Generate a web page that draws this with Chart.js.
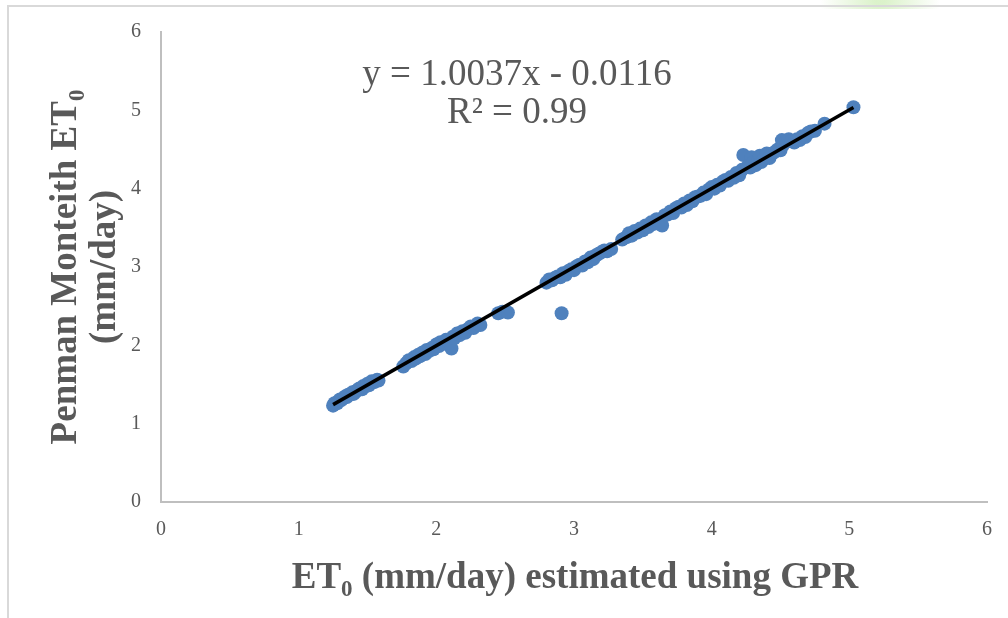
<!DOCTYPE html>
<html>
<head>
<meta charset="utf-8">
<title>ET0 GPR vs Penman Monteith</title>
<script src="https://cdn.jsdelivr.net/npm/chart.js@4/dist/chart.umd.min.js"></script>
<style>
    html, body { margin: 0; padding: 0; background: #ffffff; }
    canvas { display: block; }
</style>
</head>
<body>
<canvas id="etChart" width="1008" height="618"></canvas>
<script>
// ET0 estimated with GPR (x) against Penman Monteith ET0 (y), mm/day
const gprEt0 = [
    1.25, 1.26, 1.28, 1.29, 1.30, 1.31, 1.33, 1.34, 1.35, 1.36, 1.38, 1.39, 1.40, 1.42, 1.43, 1.44,
    1.46, 1.47, 1.48, 1.50, 1.51, 1.53, 1.55, 1.57, 1.58,
    1.76, 1.78, 1.80, 1.82, 1.84, 1.85, 1.87, 1.88, 1.90, 1.92, 1.93, 1.95, 1.97, 1.98, 2.00, 2.02,
    2.03, 2.05, 2.07, 2.09, 2.11, 2.12, 2.13, 2.15, 2.17, 2.19, 2.21, 2.23, 2.25, 2.27, 2.30, 2.32,
    2.45, 2.48, 2.52, 2.91,
    2.80, 2.82, 2.84, 2.86, 2.88, 2.90, 2.92, 2.94, 2.96, 2.98, 3.00, 3.02, 3.04, 3.06, 3.08, 3.10,
    3.12, 3.14, 3.16, 3.18, 3.20, 3.22, 3.24, 3.27,
    3.35, 3.38, 3.40, 3.42, 3.44, 3.46, 3.48, 3.50, 3.52, 3.54, 3.56, 3.58, 3.60, 3.62, 3.64, 3.66,
    3.68, 3.70, 3.72, 3.74, 3.76, 3.78, 3.80, 3.82, 3.84, 3.86, 3.88, 3.90, 3.92, 3.94, 3.96, 3.98,
    4.00, 4.02, 4.04, 4.06, 4.08, 4.10, 4.12, 4.14, 4.16, 4.18, 4.20, 4.22, 4.23, 4.26, 4.28, 4.29,
    4.30, 4.32, 4.34, 4.35, 4.36, 4.38, 4.40, 4.42, 4.44, 4.46, 4.48, 4.50, 4.51, 4.52, 4.54, 4.56,
    4.58, 4.60, 4.62, 4.64, 4.66, 4.68, 4.70, 4.72, 4.75, 4.82, 5.03
];
const penmanEt0 = [
    1.23, 1.26, 1.26, 1.29, 1.31, 1.30, 1.33, 1.35, 1.34, 1.37, 1.38, 1.40, 1.38, 1.42, 1.43, 1.45,
    1.44, 1.48, 1.47, 1.51, 1.49, 1.54, 1.53, 1.56, 1.55,
    1.73, 1.77, 1.81, 1.80, 1.85, 1.83, 1.88, 1.86, 1.91, 1.89, 1.94, 1.93, 1.97, 1.95, 2.01, 1.99,
    2.04, 2.02, 2.07, 2.05, 1.96, 2.11, 2.09, 2.15, 2.13, 2.18, 2.16, 2.21, 2.24, 2.22, 2.28, 2.26,
    2.41, 2.43, 2.42, 2.41,
    2.80, 2.84, 2.83, 2.86, 2.88, 2.87, 2.92, 2.90, 2.95, 2.97, 2.96, 3.01, 3.03, 3.02, 3.07, 3.06,
    3.12, 3.10, 3.15, 3.17, 3.19, 3.21, 3.20, 3.23,
    3.35, 3.38, 3.43, 3.40, 3.46, 3.44, 3.49, 3.47, 3.53, 3.51, 3.57, 3.55, 3.61, 3.59, 3.53, 3.66,
    3.67, 3.71, 3.69, 3.75, 3.77, 3.76, 3.81, 3.79, 3.85, 3.84, 3.89, 3.90, 3.91, 3.95, 3.93, 3.99,
    4.02, 4.00, 4.05, 4.04, 4.09, 4.11, 4.10, 4.15, 4.14, 4.20, 4.17, 4.24, 4.43, 4.28, 4.27, 4.40,
    4.33, 4.30, 4.36, 4.42, 4.34, 4.38, 4.45, 4.39, 4.45, 4.47, 4.50, 4.49, 4.62, 4.56, 4.60, 4.63,
    4.61, 4.59, 4.63, 4.62, 4.67, 4.66, 4.71, 4.73, 4.74, 4.83, 5.04
];
const axisTicks = [0, 1, 2, 3, 4, 5, 6];

// linear fit reported on the chart
const trendSlope = 1.0037;
const trendIntercept = -0.0116;
const rSquared = 0.99;

const textGrey = '#595959';
const serif = "'Liberation Serif', 'Times New Roman', serif";

const scatterPoints = gprEt0.map((x, i) => ({ x: x, y: penmanEt0[i] }));
const xMin = Math.min(...gprEt0);
const xMax = Math.max(...gprEt0);
const trendPoints = [xMin, xMax].map(x => ({ x: x, y: trendSlope * x + trendIntercept }));

// draws a line of text where some parts are subscripts, centred on (cx, baseline)
function drawRichText(ctx, parts, cx, baseline, size, weight) {
    const subSize = Math.round(size * 0.62);
    let total = 0;
    parts.forEach(p => {
        ctx.font = weight + ' ' + (p.sub ? subSize : size) + 'px ' + serif;
        p.w = ctx.measureText(p.t).width;
        total += p.w;
    });
    let x = cx - total / 2;
    ctx.textAlign = 'left';
    ctx.textBaseline = 'alphabetic';
    parts.forEach(p => {
        ctx.font = weight + ' ' + (p.sub ? subSize : size) + 'px ' + serif;
        ctx.fillText(p.t, x, baseline + (p.sub ? size * 0.22 : 0));
        x += p.w;
    });
}

const decorPlugin = {
    id: 'decor',
    beforeDraw(chart) {
        const ctx = chart.ctx;
        ctx.save();
        ctx.fillStyle = '#ffffff';
        ctx.fillRect(0, 0, chart.width, chart.height);
        // faint green patch on the top edge
        const g = ctx.createRadialGradient(880, 0, 5, 880, 0, 60);
        g.addColorStop(0, 'rgba(190, 232, 160, 0.55)');
        g.addColorStop(1, 'rgba(190, 232, 160, 0)');
        ctx.fillStyle = g;
        ctx.fillRect(820, 0, 120, 9);
        // page frame
        ctx.strokeStyle = '#d9d9d9';
        ctx.lineWidth = 2;
        ctx.beginPath();
        ctx.moveTo(1008, 6);
        ctx.lineTo(8, 6);
        ctx.lineTo(8, 618);
        ctx.stroke();
        ctx.restore();
    },
    afterDraw(chart) {
        const ctx = chart.ctx;
        ctx.save();
        ctx.fillStyle = textGrey;

        // trendline equation
        ctx.font = '37px ' + serif;
        ctx.textAlign = 'center';
        ctx.textBaseline = 'alphabetic';
        const sign = trendIntercept < 0 ? ' - ' : ' + ';
        ctx.fillText('y = ' + trendSlope + 'x' + sign + Math.abs(trendIntercept), 517, 85);
        ctx.fillText('R\u00B2 = ' + rSquared, 517, 123);

        // x axis title
        drawRichText(ctx, [
            { t: 'ET' }, { t: '0', sub: true }, { t: ' (mm/day) estimated using GPR' }
        ], 575, 588, 37, 'bold');

        // y axis title, two lines
        ctx.translate(0, 267);
        ctx.rotate(-Math.PI / 2);
        drawRichText(ctx, [{ t: 'Penman Monteith ET' }, { t: '0', sub: true }], 0, 76, 37, 'bold');
        drawRichText(ctx, [{ t: '(mm/day)' }], 0, 115, 37, 'bold');
        ctx.restore();
    }
};

const ctx = document.getElementById('etChart').getContext('2d');
const etChart = new Chart(ctx, {
    type: 'scatter',
    data: {
        datasets: [
            {
                label: 'Linear (ET0)',
                type: 'line',
                data: trendPoints,
                borderColor: '#000000',
                borderWidth: 3.5,
                pointRadius: 0,
                fill: false,
                order: 0
            },
            {
                label: 'ET0',
                data: scatterPoints,
                backgroundColor: '#4f81bd',
                borderWidth: 0,
                pointRadius: 7,
                pointHoverRadius: 7,
                order: 1
            }
        ]
    },
    options: {
        responsive: false,
        animation: false,
        events: [],
        layout: {
            padding: { left: 0, top: 29, right: 19, bottom: 0 }
        },
        plugins: {
            legend: { display: false },
            tooltip: { enabled: false }
        },
        scales: {
            x: {
                type: 'linear',
                min: 0,
                max: 6,
                afterFit: scale => { scale.height = 116; },
                afterBuildTicks: scale => { scale.ticks = axisTicks.map(v => ({ value: v })); },
                grid: { display: false, drawTicks: false },
                border: { display: true, color: '#bfbfbf', width: 2 },
                ticks: {
                    padding: 16,
                    color: textGrey,
                    font: { family: serif, size: 20 }
                }
            },
            y: {
                type: 'linear',
                min: 0,
                max: 6,
                afterFit: scale => { scale.width = 161; },
                afterBuildTicks: scale => { scale.ticks = axisTicks.map(v => ({ value: v })); },
                grid: { display: false, drawTicks: false },
                border: { display: true, color: '#bfbfbf', width: 2 },
                ticks: {
                    padding: 20,
                    color: textGrey,
                    font: { family: serif, size: 20 }
                }
            }
        }
    },
    plugins: [decorPlugin]
});
</script>
</body>
</html>
